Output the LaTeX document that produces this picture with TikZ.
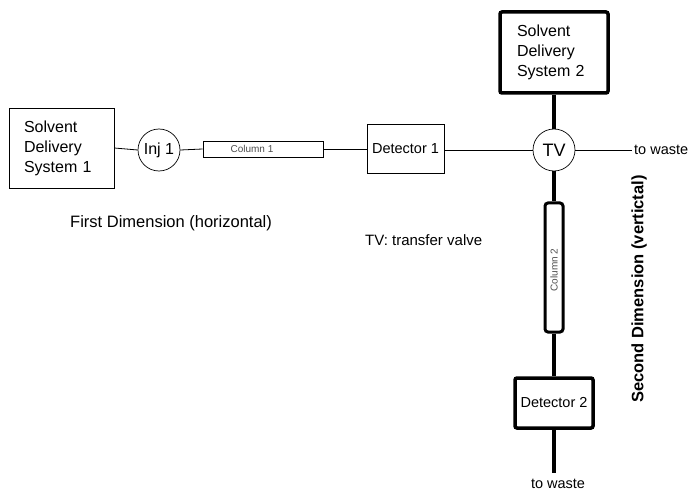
\documentclass[tikz,border=0pt]{standalone}
\usepackage{fontspec}
\setmainfont{Liberation Sans}
\begin{document}
\begin{tikzpicture}[x=1pt,y=-1pt,
  thinbox/.style={draw,line width=0.8pt,inner sep=0pt,align=left},
  thickbox/.style={draw,line width=3.5pt,rounded corners=2pt,inner sep=0pt},
  valve/.style={draw,circle,line width=0.7pt,minimum size=42pt,inner sep=0pt},
  thinline/.style={line width=0.8pt},
  thickline/.style={line width=4pt},
  lbl/.style={inner sep=0pt},
  collbl/.style={inner sep=0pt,font=\fontsize{10}{12}\selectfont,text=black!70}]
\useasboundingbox (0,0) rectangle (697,492);
% first dimension
\node[thinbox,minimum width=105pt,minimum height=80pt,font=\fontsize{16}{20}\selectfont,text width=75pt] (sds1) at (61.5,148) {Solvent\\Delivery\\System 1};
\node[valve,font=\fontsize{16}{19}\selectfont] (inj) at (159,150) {Inj 1};
\node[draw,line width=0.8pt,minimum width=120pt,minimum height=16pt,inner sep=0pt] (col1) at (263,149) {};
\node[collbl] (col1lbl) at (252,149) {Column 1};
\node[thinbox,minimum width=77pt,minimum height=49pt,font=\fontsize{14.5}{17}\selectfont] (det1) at (405.5,148.5) {Detector 1};
\node[valve,font=\fontsize{18}{20}\selectfont] (tv) at (554,150) {TV};
\coordinate (w1) at (632,150);
\node[lbl,anchor=west,font=\fontsize{14.5}{17}\selectfont] (waste1) at (634,150) {to waste};
% second dimension
\node[thickbox,minimum width=108pt,minimum height=81pt,font=\fontsize{16}{20}\selectfont,text width=74pt,align=left] (sds2) at (554,52.5) {Solvent\\Delivery\\System 2};
\node[draw,line width=3pt,rounded corners=3pt,minimum width=129pt,minimum height=18pt,inner sep=0pt,rotate=90] (col2) at (554,267.5) {};
\node[collbl,rotate=90] (col2lbl) at (554,270) {Column 2};
\node[thickbox,minimum width=78pt,minimum height=50pt,font=\fontsize{14.5}{17}\selectfont] (det2) at (554,403) {Detector 2};
\coordinate (w2) at (554,473);
\node[lbl,anchor=south,font=\fontsize{14.5}{17}\selectfont] (waste2) at (558,489) {to waste};
% connectors
\draw[thinline] (sds1.east) -- (inj.west);
\draw[thinline] (inj.east) -- (col1.west);
\draw[thinline] (col1.east) -- (det1.west|-col1.east);
\draw[thinline] (det1.east|-tv.west) -- (tv.west);
\draw[thinline] (tv.east) -- (w1);
\draw[thickline] (sds2.south) -- (tv.north);
\draw[thickline] (tv.south) -- (col2.east);
\draw[thickline] (col2.west) -- (det2.north);
\draw[thickline] (det2.south) -- (w2);
% labels
\node[lbl,anchor=west,font=\fontsize{16.5}{19}\selectfont] (dim1) at (70,223) {First Dimension (horizontal)};
\node[lbl,anchor=west,font=\fontsize{15}{18}\selectfont] (tvlbl) at (365,240) {TV: transfer valve};
\node[lbl,rotate=90,font=\bfseries\fontsize{16.5}{19}\selectfont] (dim2) at (639,289) {Second Dimension (vertictal)};
\end{tikzpicture}
\end{document}
